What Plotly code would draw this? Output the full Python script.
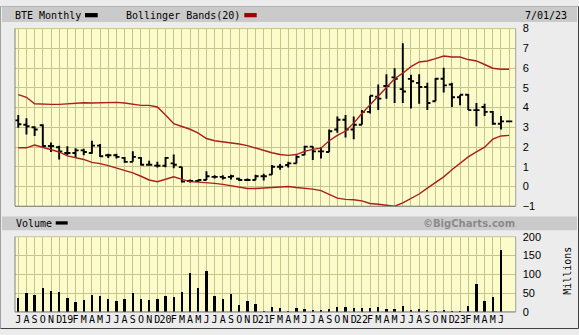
import plotly.graph_objects as go

W, H = 579, 335

month_labels = ["J","A","S","O","N","D","19","F","M","A","M","J",
                "J","A","S","O","N","D","20","F","M","A","M","J",
                "J","A","S","O","N","D","21","F","M","A","M","J",
                "J","A","S","O","N","D","22","F","M","A","M","J",
                "J","A","S","O","N","D","23","F","M","A","M","J"]

open_ = [3.35,3.13,3.00,3.10,2.05,1.99,1.70,1.70,1.83,1.70,2.07,1.58,
         1.58,1.45,1.25,1.45,1.10,1.06,1.05,1.17,0.98,0.28,0.28,0.33,
         0.49,0.49,0.49,0.39,0.33,0.33,0.52,0.60,1.00,1.09,1.17,1.60,
         2.02,1.78,1.75,2.89,3.38,2.89,3.13,3.78,4.55,5.09,5.53,4.93,
         5.45,5.25,5.04,4.32,5.46,5.17,4.52,4.65,3.87,4.03,3.78,3.18,3.30]
high = [3.62,3.46,3.05,3.15,2.23,2.07,2.04,1.94,1.91,2.32,2.15,1.66,
        1.66,1.50,1.78,1.50,1.30,1.25,1.50,1.62,1.00,0.36,0.36,0.77,
        0.57,0.57,0.60,0.44,0.41,0.60,0.65,1.09,1.14,1.26,1.58,2.07,
        2.04,1.99,2.89,3.54,3.62,3.54,3.87,4.60,5.17,5.69,5.99,7.26,
        5.66,5.69,5.25,5.50,6.02,5.25,4.65,4.68,4.23,4.19,3.82,3.57,3.32]
low = [2.97,2.64,2.56,1.95,1.75,1.37,1.58,1.45,1.58,1.66,1.50,1.45,
       1.42,1.20,1.25,1.06,1.06,0.96,0.97,0.93,0.20,0.20,0.23,0.33,
       0.41,0.36,0.36,0.28,0.28,0.33,0.31,0.60,0.85,0.96,1.17,1.58,
       1.34,1.42,1.75,2.72,2.48,2.40,3.13,3.70,3.87,4.44,4.23,4.23,
       3.95,4.19,3.87,4.32,4.76,4.03,4.11,3.87,3.05,3.57,3.13,2.89,3.28]
close = [3.15,3.05,2.89,2.05,2.05,1.78,1.70,1.83,1.75,2.07,1.53,1.58,
         1.50,1.25,1.50,1.10,1.10,1.05,1.45,1.10,0.25,0.28,0.33,0.52,
         0.49,0.44,0.52,0.33,0.33,0.52,0.52,1.00,1.00,1.17,1.50,2.02,
         1.78,1.78,2.80,3.38,2.89,3.13,3.78,4.60,4.45,5.09,5.45,4.81,
         5.33,5.04,4.23,5.46,5.12,4.52,4.65,3.87,3.87,3.78,3.18,3.30,3.30]

upper_band = [4.65,4.52,4.19,4.16,4.16,4.16,4.19,4.23,4.24,4.23,4.24,4.26,
              4.26,4.23,4.16,4.11,4.11,4.03,3.62,3.18,3.04,2.90,2.70,2.43,
              2.32,2.27,2.23,2.15,2.07,1.94,1.83,1.71,1.62,1.58,1.62,1.78,
              1.88,1.94,2.32,2.59,2.81,3.21,3.70,4.14,4.60,5.04,5.46,5.74,
              6.07,6.31,6.36,6.48,6.61,6.56,6.56,6.43,6.36,6.18,5.99,5.94,5.94]
lower_band = [1.96,1.96,2.10,1.99,1.86,1.75,1.55,1.45,1.37,1.22,1.16,1.06,
              0.93,0.80,0.69,0.52,0.33,0.24,0.36,0.49,0.36,0.25,0.22,0.20,
              0.16,0.11,0.03,-0.05,-0.10,-0.10,-0.08,-0.05,-0.02,0.00,-0.05,-0.08,
              -0.13,-0.21,-0.41,-0.59,-0.65,-0.67,-0.73,-0.86,-0.90,-0.95,-1.00,-0.83,
              -0.62,-0.38,-0.08,0.20,0.49,0.85,1.17,1.50,1.75,1.99,2.40,2.56,2.59]

volume = [39,51,46,65,56,53,38,28,33,46,43,35,
          30,35,51,35,33,35,43,41,53,103,64,110,
          43,35,48,20,30,22,4,15,12,4,12,9.5,
          7,7,9.5,15,15,12,12,12,15,9.5,9.5,17,
          7,9.5,7,4,7,4,2,17,75,30,41,166]

price_y_ticks = [-1,0,1,2,3,4,5,6,7,8]
vol_y_ticks = [0,50,100,150,200]

idx = list(range(len(close)))
vidx = list(range(len(volume)))

RED = "#AA1E1E"
GRID = "#C6C68A"
BG = "#FBFBCC"
MONO = "DejaVu Sans Mono"

def px(x):
    return x / W

def py(y):
    return 1 - y / H

# plot geometry in pixels
L, R = 15, 515.7
MT, MB = 23.4, 207.7
VT, VB = 239.3, 317.3

fig = go.Figure()
fig.add_trace(go.Ohlc(
    x=idx, open=open_, high=high, low=low, close=close,
    increasing=dict(line=dict(color="black", width=1.9)),
    decreasing=dict(line=dict(color="black", width=1.9)),
    tickwidth=0.38, showlegend=False, hoverinfo="skip",
    xaxis="x", yaxis="y"))
fig.add_trace(go.Scatter(x=idx, y=upper_band, mode="lines",
                         line=dict(color=RED, width=1.4), showlegend=False,
                         hoverinfo="skip", xaxis="x", yaxis="y"))
fig.add_trace(go.Scatter(x=idx, y=lower_band, mode="lines",
                         line=dict(color=RED, width=1.4), showlegend=False,
                         hoverinfo="skip", xaxis="x", yaxis="y"))
fig.add_trace(go.Bar(x=vidx, y=volume, width=0.28,
                     marker=dict(color="black", line=dict(width=0)),
                     showlegend=False, hoverinfo="skip",
                     xaxis="x2", yaxis="y2"))

xr = [-0.4, 60.8]
common_x = dict(range=xr, showgrid=True, gridcolor=GRID, gridwidth=1.2,
                zeroline=False, fixedrange=True)
fig.update_layout(
    width=W, height=H,
    margin=dict(l=0, r=0, t=0, b=0),
    paper_bgcolor="#ECECEC",
    plot_bgcolor=BG,
    bargap=0,
    xaxis=dict(domain=[px(L), px(R)], anchor="y", tickmode="linear",
               tick0=0, dtick=1, showticklabels=False,
               rangeslider=dict(visible=False), **common_x),
    yaxis=dict(domain=[py(MB), py(MT)], anchor="x", range=[-1, 8],
               side="right", tickmode="array", tickvals=price_y_ticks,
               showgrid=True, gridcolor=GRID, gridwidth=1.2, zeroline=False,
               tickfont=dict(family="Liberation Sans", size=11, color="black"),
               ticklabelstandoff=6, fixedrange=True),
    xaxis2=dict(domain=[px(L), px(R)], anchor="y2", tickmode="array",
                tickvals=vidx, ticktext=month_labels, tickangle=0,
                tickfont=dict(family=MONO, size=10, color="black"),
                **common_x),
    yaxis2=dict(domain=[py(VB), py(VT)], anchor="x2", range=[0, 200],
                side="right", tickmode="array", tickvals=vol_y_ticks,
                showgrid=True, gridcolor=GRID, gridwidth=1.2, zeroline=False,
                tickfont=dict(family="Liberation Sans", size=11, color="black"),
                ticklabelstandoff=6, fixedrange=True),
)

shapes = []
def rect(x0, y0, x1, y1, fill, line=None):
    shapes.append(dict(type="rect", xref="paper", yref="paper",
                       x0=px(x0), x1=px(x1), y0=py(y1), y1=py(y0),
                       fillcolor=fill, line=dict(width=0) if line is None else line,
                       layer="below"))
def seg(x0, y0, x1, y1, color, width=1, layer="above"):
    shapes.append(dict(type="line", xref="paper", yref="paper",
                       x0=px(x0), x1=px(x1), y0=py(y0), y1=py(y1),
                       line=dict(color=color, width=width), layer=layer))

# header bands
rect(2, 1, 577, 16.7, "#CACACA")
rect(2, 218.3, 577, 232.7, "#CACACA")
# legend swatches
rect(85, 7.3, 97.7, 11.7, "black")
rect(244.3, 7.3, 256.7, 11.7, "#A00000")
rect(55.7, 223.3, 67.7, 226.7, "black")
# outer frame
seg(0.5, 0.5, 578.5, 0.5, "#B0B0B0")
seg(0.5, 0.5, 0.5, 334.5, "#A0A0A0")
seg(578.5, 0.5, 578.5, 334.5, "#404040")
seg(0.5, 334.5, 578.5, 334.5, "#404040")
# plot borders
for top, bot in [(MT, MB), (VT, VB)]:
    seg(L, top, R, top, GRID)
    seg(L, top, L, bot, "#808080")
    seg(L, bot, R, bot, "#707070")
    seg(R, top, R, bot, "#A0A0A0")

ann = []
def text(x, y, s, anchor="left", size=10, color="black", family=MONO,
         bold=False, angle=0):
    ann.append(dict(xref="paper", yref="paper", x=px(x), y=py(y),
                    text=("<b>%s</b>" % s) if bold else s, showarrow=False,
                    xanchor=anchor, yanchor="middle", textangle=angle,
                    font=dict(family=family, size=size, color=color)))

text(13, 9.5, "BTE Monthly")
text(124, 9.5, "Bollinger Bands(20)")
text(522.5, 9.5, "7/01/23")
text(14, 225.5, "Volume")
text(516.5, 225.5, "©BigCharts.com", anchor="right", size=10,
     color="#8A8A8A", family="DejaVu Sans", bold=True)
text(566.7, 275, "Millions", anchor="center", angle=-90)

fig.update_layout(shapes=shapes, annotations=ann)
fig.write_html("out.html")
